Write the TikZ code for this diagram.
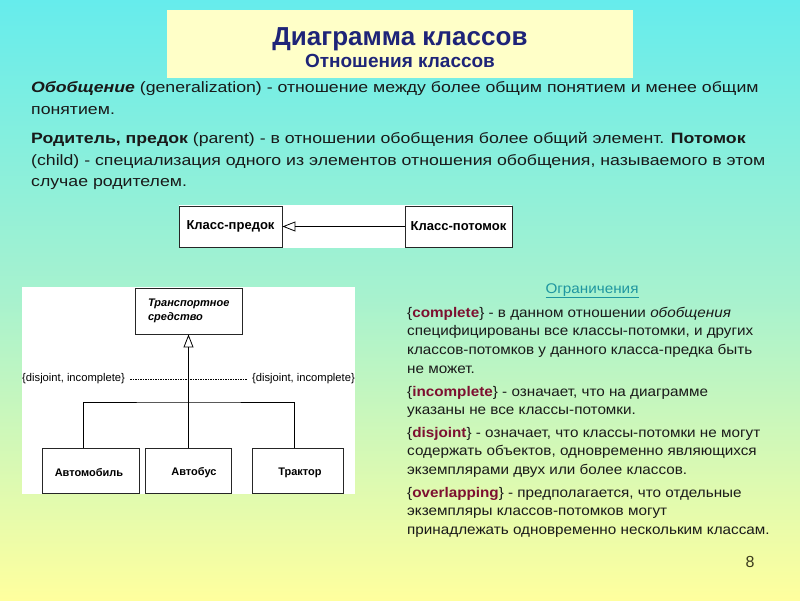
\documentclass[tikz,border=0pt]{standalone}
\usepackage{fontspec}
\setmainfont{Liberation Sans}
\newfontfamily\bodyfont[FakeStretch=1.18]{Liberation Sans}
\newfontfamily\rightfont[FakeStretch=1.09]{Liberation Sans}
\usetikzlibrary{arrows.meta}
\definecolor{bgtop}{RGB}{102,236,236}
\definecolor{bgmid}{RGB}{168,242,206}
\definecolor{bgbot}{RGB}{255,255,158}
\definecolor{titlebg}{RGB}{255,255,200}
\definecolor{titlefg}{RGB}{30,36,120}
\definecolor{bodyfg}{RGB}{25,25,25}
\definecolor{kwfg}{RGB}{125,16,48}
\definecolor{headfg}{RGB}{30,150,160}
\definecolor{numfg}{RGB}{60,60,30}
\tikzset{
  body/.style={anchor=base west, inner sep=0pt, text=bodyfg, font=\bodyfont\fontsize{15}{17}\selectfont},
  rbody/.style={anchor=base west, inner sep=0pt, text=bodyfg, font=\rightfont\fontsize{14}{16}\selectfont},
  umlbox/.style={draw=black!85, line width=0.9pt, fill=white, inner sep=0pt},
  umltxt/.style={font=\bfseries\fontsize{13}{15}\selectfont},
  lowtxt/.style={font=\bfseries\fontsize{11}{13}\selectfont},
  gen/.style={line width=0.8pt, -{Triangle[open,length=13pt,width=10pt]}},
}
\newcommand{\kw}[1]{\textcolor{kwfg}{\textbf{#1}}}
\begin{document}
\begin{tikzpicture}[x=1pt,y=-1pt]
\useasboundingbox (0,0) rectangle (800,600);
\shade[top color=bgtop, bottom color=bgbot, middle color=bgmid] (0,0) rectangle (800,600);
% title
\node[fill=titlebg, minimum width=466pt, minimum height=68pt, inner sep=0pt] (title) at (400,44) {};
\node[text=titlefg, font=\bfseries\fontsize{26}{28}\selectfont, anchor=base] (t1) at (400,45) {Диаграмма классов};
\node[text=titlefg, font=\bfseries\fontsize{19}{21}\selectfont, anchor=base] (t2) at (400,67) {Отношения классов};
% paragraphs
\node[body] (p1) at (31,92.3) {\textbf{\textit{Обобщение}} (generalization) - отношение между более общим понятием и менее общим};
\node[body] (p2) at (31,114.3) {понятием.};
\node[body] (p3) at (31,143.3) {\textbf{Родитель, предок} (parent) - в отношении обобщения более общий элемент. \textbf{Потомок}};
\node[body] (p4) at (31,165) {(child) - специализация одного из элементов отношения обобщения, называемого в этом};
\node[body] (p5) at (31,186.7) {случае родителем.};
% top diagram
\fill[white] (179,205) rectangle (512,248);
\node[umlbox, minimum width=103pt, minimum height=41pt, umltxt] (par) at (230.5,226.5) {Класс-предок};
\node[umlbox, minimum width=107pt, minimum height=41pt, umltxt] (chi) at (458.5,226.5) {Класс-потомок};
\draw[gen] (chi.west) -- (par.east);
% lower diagram
\fill[white] (22,287) rectangle (355,494);
\node[umlbox, minimum width=107pt, minimum height=46pt, align=left, font=\bfseries\itshape\fontsize{11}{14}\selectfont, text width=97pt, inner xsep=5pt] (veh) at (188.5,311) {\hspace*{8pt}Транспортное\\\hspace*{8pt}средство};
\node[umlbox, minimum width=97pt, minimum height=45pt] (car) at (90.5,470.5) {};
\node[umlbox, minimum width=86pt, minimum height=45pt] (bus) at (188.5,470.5) {};
\node[umlbox, minimum width=91pt, minimum height=45pt] (trk) at (297.5,470.5) {};
\node[lowtxt] (carl) at (89,472.5) {Автомобиль};
\node[lowtxt] (busl) at (194,472.5) {Автобус};
\node[lowtxt] (trkl) at (300,472.5) {Трактор};
\coordinate (j) at (188.5,402);
\draw[gen] (bus.north) -- (veh.south);
\draw[line width=0.8pt] ([xshift=-7.5pt]car.north) |- (j) -| ([xshift=-3.5pt]trk.north);
\node[font=\fontsize{11.2}{12}\selectfont, anchor=west, inner sep=0pt] (dl) at (22,379) {\{disjoint, incomplete\}};
\node[font=\fontsize{11.2}{12}\selectfont, anchor=east, inner sep=0pt] (dr) at (355,379) {\{disjoint, incomplete\}};
\draw[dash pattern=on 1.5pt off 1pt, line width=0.6pt] ([xshift=5pt]dl.east) -- ([xshift=-5pt]dr.west);
% right column
\node[anchor=base, inner sep=0pt, text=headfg, font=\rightfont\fontsize{14}{16}\selectfont] (oh) at (592,293) {\underline{Ограничения}};
\node[rbody] (r1) at (407,317) {\{\kw{complete}\} - в данном отношении \textit{обобщения}};
\node[rbody] (r2) at (407,335.8) {специфицированы все классы-потомки, и других};
\node[rbody] (r3) at (407,354.6) {классов-потомков у данного класса-предка быть};
\node[rbody] (r4) at (407,373.4) {не может.};
\node[rbody] (r5) at (407,396) {\{\kw{incomplete}\} - означает, что на диаграмме};
\node[rbody] (r6) at (407,414.8) {указаны не все классы-потомки.};
\node[rbody] (r7) at (407,437) {\{\kw{disjoint}\} - означает, что классы-потомки не могут};
\node[rbody] (r8) at (407,455.8) {содержать объектов, одновременно являющихся};
\node[rbody] (r9) at (407,474.6) {экземплярами двух или более классов.};
\node[rbody] (r10) at (407,497) {\{\kw{overlapping}\} - предполагается, что отдельные};
\node[rbody] (r11) at (407,515.8) {экземпляры классов-потомков могут};
\node[rbody] (r12) at (407,534.6) {принадлежать одновременно нескольким классам.};
\node[anchor=base, text=numfg, font=\fontsize{16}{18}\selectfont, inner sep=0pt] (num) at (750,567) {8};
\end{tikzpicture}
\end{document}
